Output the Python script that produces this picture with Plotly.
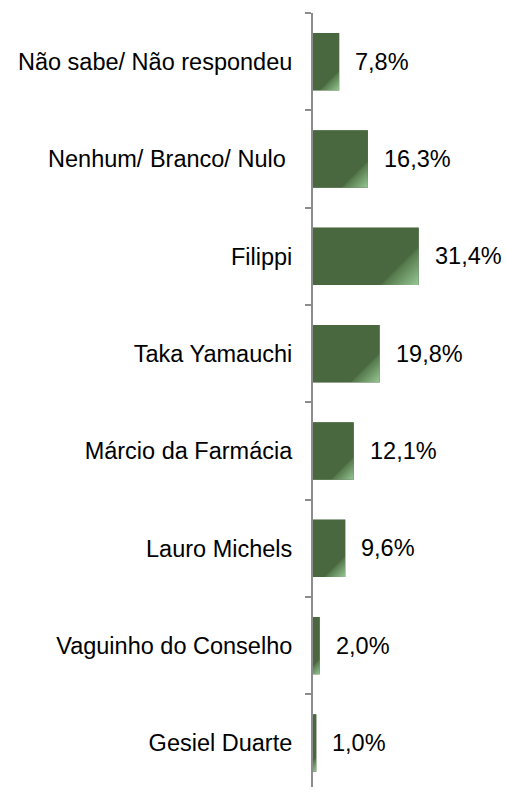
import base64
import plotly.graph_objects as go

categories = ["Gesiel Duarte", "Vaguinho do Conselho", "Lauro Michels",
              "Márcio da Farmácia", "Taka Yamauchi", "Filippi",
              "Nenhum/ Branco/ Nulo\u00a0", "Não sabe/ Não respondeu"]
values = [1.0, 2.0, 9.6, 12.1, 19.8, 31.4, 16.3, 7.8]
value_labels = ["1,0%", "2,0%", "9,6%", "12,1%", "19,8%", "31,4%", "16,3%", "7,8%"]

FONT = "Liberation Sans, Arial, sans-serif"
DARK = "rgb(74,104,64)"
BAR_WIDTH = 0.59
X_MAX = 57.3
PLOT_W = 506 - 313


def gradient_svg(w, h):
    s = w + h
    svg = (
        f'<svg xmlns="http://www.w3.org/2000/svg" width="{w:.2f}" height="{h:.2f}" '
        f'viewBox="0 0 {w:.2f} {h:.2f}" preserveAspectRatio="none">'
        f'<defs><linearGradient id="g" gradientUnits="userSpaceOnUse" x1="0" y1="0" '
        f'x2="{s/2:.2f}" y2="{s/2:.2f}">'
        f'<stop offset="0" stop-color="{DARK}"/>'
        f'<stop offset="0.76" stop-color="{DARK}"/>'
        f'<stop offset="0.78" stop-color="rgb(86,122,76)"/>'
        f'<stop offset="1" stop-color="rgb(152,200,150)"/>'
        f'</linearGradient></defs>'
        f'<rect x="0" y="0" width="{w:.2f}" height="{h:.2f}" fill="url(#g)"/></svg>'
    )
    return "data:image/svg+xml;base64," + base64.b64encode(svg.encode()).decode()


fig = go.Figure()
fig.add_trace(go.Bar(
    y=categories, x=values, orientation="h",
    width=BAR_WIDTH,
    marker=dict(color=DARK, line=dict(width=0)),
    hoverinfo="skip",
))

cat_px = 97.3
for i, (c, v, t) in enumerate(zip(categories, values, value_labels)):
    fig.add_annotation(x=v, y=c, text=t, showarrow=False, xanchor="left",
                       xshift=14, font=dict(family=FONT, size=23.5, color="#000000"))
    w_px = v * PLOT_W / X_MAX
    h_px = BAR_WIDTH * cat_px
    fig.add_layout_image(
        source=gradient_svg(w_px, h_px), xref="x", yref="y",
        x=0, y=i, sizex=v, sizey=BAR_WIDTH,
        xanchor="left", yanchor="middle", sizing="stretch", layer="above",
    )

fig.update_layout(
    width=506, height=787,
    margin=dict(l=313, r=0, t=13, b=0),
    paper_bgcolor="white", plot_bgcolor="white",
    showlegend=False,
)
fig.update_xaxes(range=[0, X_MAX], visible=False, showgrid=False, zeroline=False)
fig.update_yaxes(
    type="category", categoryorder="array", categoryarray=categories,
    range=[-0.452, 7.5],
    showline=True, linecolor="#8c8c8c", linewidth=2,
    ticks="outside", tickson="boundaries", ticklen=6, tickcolor="#8c8c8c", tickwidth=2,
    tickfont=dict(family=FONT, size=23.5, color="#000000"),
    ticklabelstandoff=14,
    showgrid=False, zeroline=False,
)

fig.write_html(
    "out.html",
    config={"displayModeBar": False},
    post_script="document.body.style.margin='0';document.body.style.overflow='hidden';",
)
